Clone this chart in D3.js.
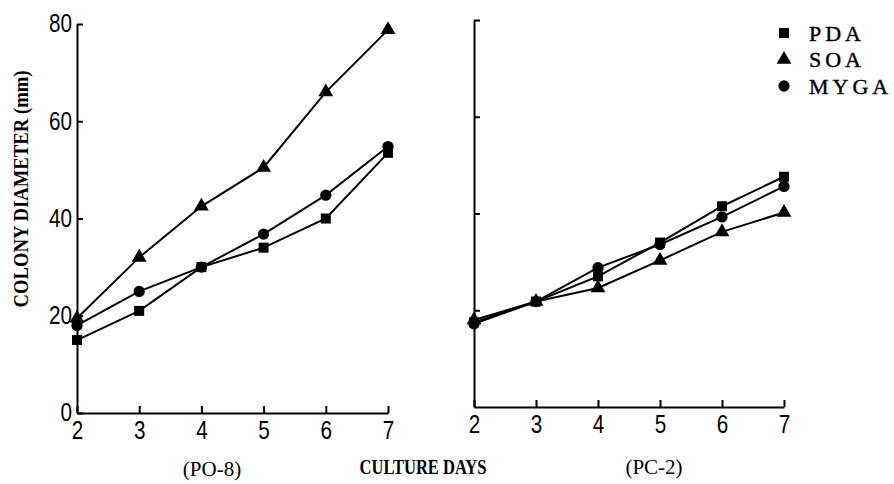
<!DOCTYPE html>
<html><head><meta charset="utf-8">
<script src="https://cdn.jsdelivr.net/npm/d3@7"></script>
<style>body{margin:0;background:#fff}svg{display:block}</style>
</head><body>
<svg id="c" width="894" height="484"></svg>
<script>
const days = [2,3,4,5,6,7];
const seriesNames = ["PDA","SOA","MYGA"];
const yTicks = [0,20,40,60,80];
// PO-8
const po8PDA  = [15.0,21.0,30.0,34.0,40.0,53.5];
const po8SOA  = [19.5,32.0,42.5,50.5,66.0,78.8];
const po8MYGA = [18.0,25.0,30.0,36.8,44.8,54.8];
// PC-2
const pc2PDA  = [17.5,21.8,27.0,34.0,41.5,47.6];
const pc2SOA  = [18.0,21.8,24.6,30.3,36.2,40.2];
const pc2MYGA = [17.2,21.8,28.8,33.6,39.3,45.6];

const svg = d3.select("#c");
const numFont = "'Liberation Sans','DejaVu Sans',sans-serif";
const serif = "'Liberation Serif','DejaVu Serif',serif";
const sym = {PDA:d3.symbolSquare, SOA:d3.symbolTriangle, MYGA:d3.symbolCircle};
const symSize = {PDA:100, SOA:95, MYGA:100};

function panel(cfg){
  const x = d3.scaleLinear().domain([2,7]).range([cfg.x0,cfg.x1]);
  const y = d3.scaleLinear().domain([0,80]).range([cfg.y0,cfg.y1]);
  const g = svg.append("g");
  const xa = g.append("g").attr("transform",`translate(0,${cfg.y0})`)
    .call(d3.axisBottom(x).tickValues(days).tickFormat(d3.format("d")).tickSizeInner(-7).tickSizeOuter(0).tickPadding(8));
  const ya = g.append("g").attr("transform",`translate(${cfg.x0},0)`)
    .call(d3.axisLeft(y).tickValues(cfg.showY?yTicks:yTicks.slice(1)).tickFormat(cfg.showY?d3.format("d"):"").tickSizeInner(-6).tickSizeOuter(0).tickPadding(5));
  [xa,ya].forEach(a=>{
    a.selectAll("path,line").attr("stroke","#000").attr("stroke-width",2);
    a.selectAll("text").attr("fill","#000").style("font-family",numFont).style("font-size","26px")
      .attr("textLength",d=>String(d).length*11.5).attr("lengthAdjust","spacingAndGlyphs");
  });
  ya.selectAll("text").attr("dy","0.3em");
  const line = d3.line().x((d,i)=>x(days[i])).y(d=>y(d));
  cfg.data.forEach(([name,vals])=>{
    g.append("path").datum(vals).attr("d",line).attr("fill","none").attr("stroke","#000").attr("stroke-width",2);
    g.selectAll(null).data(vals).enter().append("path")
      .attr("d",d3.symbol().type(sym[name]).size(symSize[name]))
      .attr("transform",(d,i)=>`translate(${x(days[i])},${y(d)})`)
      .attr("fill","#000");
  });
}

panel({x0:77,x1:388,y0:413,y1:24,showY:true,data:[["PDA",po8PDA],["SOA",po8SOA],["MYGA",po8MYGA]]});
panel({x0:474,x1:784,y0:407,y1:20,showY:false,data:[["PDA",pc2PDA],["SOA",pc2SOA],["MYGA",pc2MYGA]]});

// legend
const lg = svg.append("g");
seriesNames.forEach((n,i)=>{
  const cy = 33 + i*26.5;
  lg.append("path").attr("d",d3.symbol().type(sym[n]).size(symSize[n])).attr("transform",`translate(784,${cy})`).attr("fill","#000");
  lg.append("text").attr("x",809).attr("y",cy+7.5).text(n)
    .style("font-family",serif).style("font-size","22px").style("letter-spacing","4px")
    .attr("fill","#000").attr("stroke","#000").attr("stroke-width",0.4);
});

// titles
svg.append("text").attr("transform","translate(28,189) rotate(-90)").attr("text-anchor","middle")
  .style("font-family",serif).style("font-weight","bold").style("font-size","20px").attr("fill","#000")
  .attr("textLength",237).attr("lengthAdjust","spacingAndGlyphs")
  .text("COLONY DIAMETER (mm)");
svg.append("text").attr("x",212).attr("y",476).attr("text-anchor","middle")
  .style("font-family",serif).style("font-size","21px").text("(PO-8)");
svg.append("text").attr("x",423).attr("y",474).attr("text-anchor","middle")
  .style("font-family",serif).style("font-weight","bold").style("font-size","20px")
  .attr("textLength",127).attr("lengthAdjust","spacingAndGlyphs").text("CULTURE DAYS");
svg.append("text").attr("x",654).attr("y",474).attr("text-anchor","middle")
  .style("font-family",serif).style("font-size","21px").text("(PC-2)");
</script>
</body></html>
